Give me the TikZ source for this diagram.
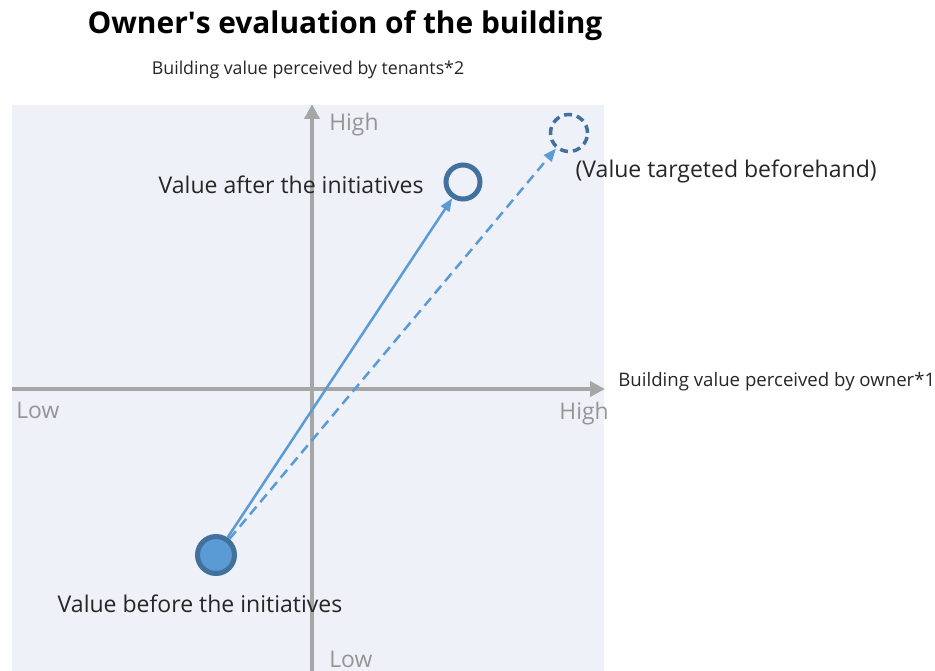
\documentclass[tikz,border=0pt]{standalone}
\usepackage{fontspec}
\setmainfont{Open Sans}
\usepackage{tikz}
\usetikzlibrary{positioning, arrows.meta, calc}
\definecolor{panelbg}{HTML}{EEF1F8}
\definecolor{axisgrey}{HTML}{A6A6A6}
\definecolor{lowhigh}{HTML}{959595}
\definecolor{valblue}{HTML}{5B9BD5}
\definecolor{valdark}{HTML}{41719C}

\begin{document}
\begin{tikzpicture}[
                axis/.style={draw=axisgrey, line width=0.08cm, -{Triangle[length=0.3cm, width=0.3cm]}},
                scalelabel/.style={text=lowhigh, inner sep=0, font=\fontsize{13}{15}\selectfont},
                axtitle/.style={text=black!85, inner sep=0, font=\fontsize{10.1}{12}\selectfont},
                vallabel/.style={text=black!85, inner sep=0, font=\fontsize{13.1}{15}\selectfont},
                valcircle/.style={draw=valdark, circle, line width=0.1cm, minimum size=0.68cm, inner sep=0},
                valarrow/.style={draw=valblue, line width=0.05cm, -{Triangle[length=0.26cm, width=0.2cm]}}
            ]

            % Rahmen und Hintergrund
            \useasboundingbox (-6.24,-5.64) rectangle (12.46,7.78);
            \fill[panelbg] (-6.0,-5.64) rectangle (5.84,5.68);

            % Achsen
            \coordinate (xstart) at (-6.0,0);
            \coordinate (xend) at (5.86,0);
            \coordinate (ystart) at (0,-5.64);
            \coordinate (yend) at (0,5.7);
            \draw[axis] (xstart) -- (xend);
            \draw[axis] (ystart) -- (yend);

            % Knoten
            \node[font=\bfseries\fontsize{17}{20}\selectfont] (title) at (0.66,7.26) {Owner\textquotesingle s evaluation of the building};
            \node[axtitle, above=0.5cm of yend, xshift=-0.08cm] (ytitle) {Building value perceived by tenants*2};
            \node[axtitle, right=0.26cm of xend, yshift=0.14cm, font=\fontsize{10.6}{12}\selectfont] (xtitle) {Building value perceived by owner*1};
            \node[scalelabel, anchor=west] (yhigh) at (0.34,5.28) {High};
            \node[scalelabel, anchor=west] (ylow) at (0.34,-5.4) {Low};
            \node[scalelabel, anchor=west] (xlow) at (-5.92,-0.42) {Low};
            \node[scalelabel] (xhigh) at (5.44,-0.5) {High};

            \node[valcircle, fill=valblue, minimum size=0.74cm] (before) at (-1.92,-3.32) {};
            \node[valcircle] (after) at (3.02,4.14) {};
            \node[valcircle, line width=0.07cm, minimum size=0.74cm, dash pattern=on 0.16cm off 0.1cm] (target) at (5.14,5.12) {};

            \node[vallabel, left=0.39cm of after, yshift=-0.06cm] (afterlbl) {Value after the initiatives};
            \node[vallabel, below right=0.24cm and -0.16cm of target] (targetlbl) {(Value targeted beforehand)};
            \node[vallabel, below=0.38cm of before, xshift=-0.32cm] (beforelbl) {Value before the initiatives};

            % Pfeile
            \draw[valarrow] (before) -- (after);
            \draw[valarrow, dash pattern=on 0.2cm off 0.12cm] (before) -- (target);

        \end{tikzpicture}
\end{document}
